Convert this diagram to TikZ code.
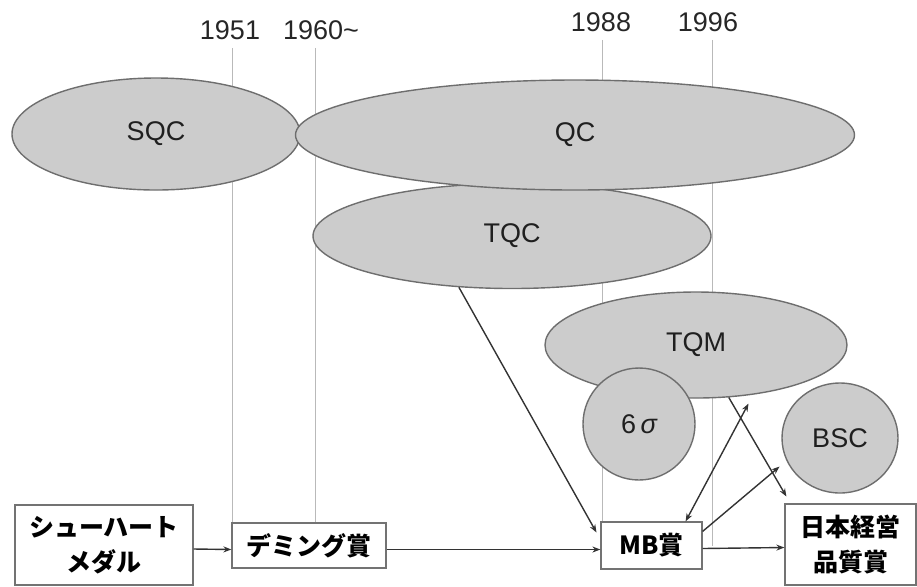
\documentclass[tikz,border=0pt]{standalone}
\usepackage{fontspec}
\setmainfont{Liberation Sans}
\newfontfamily\jpfont{Noto Sans CJK JP}
\usetikzlibrary{shapes.geometric,arrows.meta}
\definecolor{blobfill}{RGB}{204,204,204}
\definecolor{blobline}{RGB}{110,110,110}
\definecolor{yrline}{RGB}{185,185,185}
\tikzset{blob/.style={ellipse, draw=blobline, fill=blobfill, line width=0.7pt, inner sep=0pt, text=black!88, font=\fontsize{13.5}{16}\selectfont},
  prizebox/.style={draw=black!55, fill=white, line width=0.6pt, align=center, inner sep=0pt, font=\jpfont\bfseries\fontsize{12.5}{17.5}\selectfont},
  yearlbl/.style={inner sep=2pt, text=black!85, font=\fontsize{13.5}{16}\selectfont},
  yearline/.style={draw=yrline, line width=0.5pt, shorten <=2pt},
  prizearrow/.style={>={Stealth[length=4pt,width=3pt]}, line width=0.7pt, draw=black!80}}
\begin{document}
\begin{tikzpicture}[x=0.5pt, y=-0.5pt]
\useasboundingbox (0,0) rectangle (917,586);
\node[prizebox, minimum width=89pt, minimum height=40pt] (shew) at (104,545) {シューハート\\メダル};
\node[prizebox, minimum width=77pt, minimum height=22.5pt] (dem) at (309,545.5) {デミング賞};
\node[prizebox, minimum width=50.5pt, minimum height=23.5pt] (mb) at (651.5,545.5) {MB賞};
\node[prizebox, minimum width=65.5pt, minimum height=40.5pt] (jqa) at (850.5,544.5) {日本経営\\品質賞};
\node[yearlbl] (y51) at (230,30) {1951};
\node[yearlbl] (y60) at (321,30) {1960\textasciitilde};
\node[yearlbl] (y88) at (601,22) {1988};
\node[yearlbl] (y96) at (708,22) {1996};
\draw[yearline] ([xshift=1pt]y51.south) -- ([xshift=1pt]y51.south |- dem.north);
\draw[yearline] ([xshift=-3pt]y60.south) -- ([xshift=-3pt]y60.south |- dem.north);
\draw[yearline] ([xshift=0.5pt]y88.south) -- ([xshift=0.5pt]y88.south |- mb.north);
\draw[yearline] ([xshift=2pt]y96.south) -- ([xshift=2pt]y96.south |- mb.east);
\node[blob, minimum width=144pt, minimum height=56pt] (sqc) at (156,134) {SQC};
\node[blob, minimum width=199pt, minimum height=52.5pt] (tqc) at (512,236) {TQC};
\node[blob, minimum width=279.5pt, minimum height=55pt] (qc) at (575,135) {QC};
\node[blob, minimum width=151pt, minimum height=53pt] (tqm) at (696,345) {TQM};
\node[blob, minimum width=56pt, minimum height=56pt] (six) at (639,424) {6\,{\itshape σ}};
\node[blob, minimum width=58pt, minimum height=55pt] (bsc) at (840,438) {BSC};
\draw[prizearrow, ->] ([yshift=-2pt]shew.east) -- ([yshift=-2pt]dem.west);
\draw[prizearrow, ->] ([yshift=-2pt]dem.east) -- ([yshift=-2pt]mb.west);
\draw[prizearrow, ->] ([yshift=-1.5pt]mb.east) -- ([yshift=-1.5pt]jqa.west);
\draw[prizearrow, ->, shorten >=4pt] (tqc.224) -- ([yshift=3pt]mb.west);
\draw[prizearrow, <->, shorten >=5pt] ([xshift=-8.5pt]mb.north east) -- (tqm.-41);
\draw[prizearrow, ->, shorten >=4.5pt] ([yshift=-5pt]mb.north east) -- (bsc.203);
\draw[prizearrow, ->, shorten >=4pt] (tqm.-58) -- ([xshift=3pt]jqa.north west);
\end{tikzpicture}
\end{document}
